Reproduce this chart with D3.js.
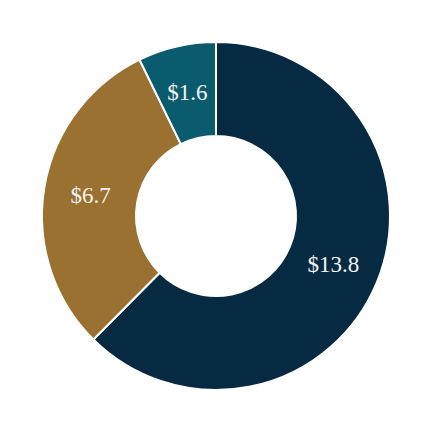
<!DOCTYPE html>
<html><head><meta charset="utf-8">
<script src="https://cdn.jsdelivr.net/npm/d3@7"></script>
<style>html,body{margin:0;padding:0;background:#fff;}</style>
</head><body>
<svg id="c" width="430" height="430"></svg>
<script>
const categories = ["A", "B", "C"];
const values = [13.8, 6.7, 1.6];
const labels = ["$13.8", "$6.7", "$1.6"];
const colors = ["#052a42", "#9a7130", "#0b5b6e"];

const svg = d3.select("#c");
const cx = 216, cy = 216, R = 174, r = 80;
const g = svg.append("g").attr("transform", `translate(${cx},${cy})`);
const pie = d3.pie().sort(null).value(d => d.v);
const data = pie(categories.map((c, i) => ({c, v: values[i], l: labels[i], col: colors[i]})));
const arc = d3.arc().innerRadius(r).outerRadius(R);
g.selectAll("path").data(data).join("path")
  .attr("d", arc).attr("fill", d => d.data.col)
  .attr("stroke", "#fff").attr("stroke-width", 2);
const larc = d3.arc().innerRadius(127).outerRadius(127);
g.selectAll("text").data(data).join("text")
  .attr("transform", d => `translate(${larc.centroid(d)})`)
  .attr("text-anchor", "middle").attr("dy", "0.35em")
  .attr("font-family", "Liberation Serif")
  .attr("font-size", 23).attr("fill", "#f4f4f4")
  .text(d => d.data.l);
</script>
</body></html>
